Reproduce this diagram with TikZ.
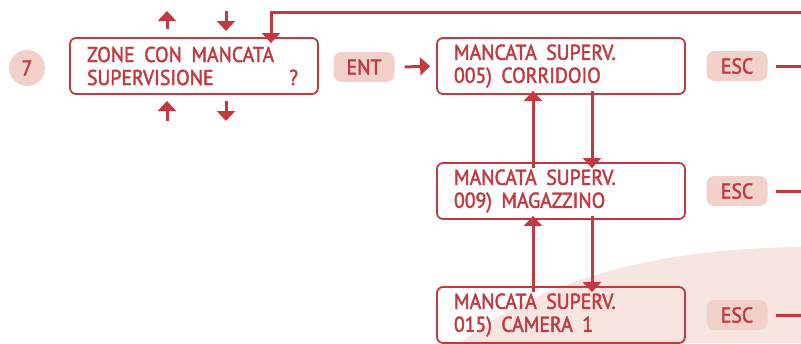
\documentclass[tikz,border=0pt]{standalone}
\usepackage{fontspec}
\newfontfamily\dinfont{PT Sans}[FakeBold=2, FakeStretch=0.92]
\newcommand{\testodisplay}{\dinfont\fontsize{21.5}{23}\selectfont}
\newcommand{\spz}{\hspace{9.5pt}}
\usetikzlibrary{arrows.meta}
\definecolor{rosso}{HTML}{C23A40}
\definecolor{rosa}{HTML}{F1D1CA}
\definecolor{sfondo}{HTML}{F6E5E1}

\begin{document}
\begin{tikzpicture}[x=1pt, y=-1pt,
  every node/.style={text=rosso, font=\testodisplay},
  display/.style={draw=rosso, line width=1.8pt, rounded corners=6pt, minimum width=248pt, minimum height=56pt, text width=214pt, align=left, inner xsep=17pt},
  tasto/.style={fill=rosa, rounded corners=8pt, minimum width=61pt, minimum height=30pt, inner sep=0pt},
  freccia/.style={draw=rosso, line width=3pt, -{Triangle[width=18pt,length=10pt]}},
  linea/.style={draw=rosso, line width=3pt}]
			\useasboundingbox (0,0) rectangle (801,343);
			\fill[sfondo] (460,343) .. controls (560,264) and (700,248) .. (801,247) -- (801,343) -- cycle;

			\node[circle, fill=rosa, minimum size=36pt, inner sep=0pt] (passo) at (27,68){7};
			\node[display] (menu) at (194,66){ZONE\spz CON\spz MANCATA\\SUPERVISIONE\hfill ?\hspace*{3pt}};
			\node[tasto] (ent) at (364,67){ENT};
			\node[display] (z005) at (561,66){MANCATA\spz SUPERV.\\005)\spz CORRIDOIO};
			\node[display] (z009) at (561,191){MANCATA\spz SUPERV.\\009)\spz MAGAZZINO};
			\node[display] (z015) at (561,315){MANCATA\spz SUPERV.\\015)\spz CAMERA\spz 1};
			\node[tasto] (esc1) at (737,66){ESC};
			\node[tasto] (esc2) at (737,191){ESC};
			\node[tasto] (esc3) at (737,315){ESC};

			\coordinate (su1) at (167,11);
			\coordinate (giu1) at (226,11);
			\coordinate (su2) at (167,121);
			\coordinate (giu2) at (226,121);
			\coordinate (ritorno) at (801,12);
			\coordinate (fuori) at (801,0);

			\path[freccia] (su1 |- menu.north) ++(0,-8) -- (su1);
			\path[freccia] (giu1) -- ++(0,20);
			\path[freccia] (ritorno) -| ([xshift=77pt,yshift=-6pt]menu.north);
			\path[freccia] (su2) -- ++(0,-20);
			\path[freccia] (giu2 |- menu.south) ++(0,6) -- (giu2);
			\path[freccia] ([xshift=10pt]ent.east) -- ([xshift=-6pt]z005.west);
			\path[freccia] ([xshift=-28pt,yshift=-6pt]z009.north) -- ([xshift=-28pt,yshift=4pt]z005.south);
			\path[freccia] ([xshift=31pt,yshift=4pt]z005.south) -- ([xshift=31pt,yshift=-6pt]z009.north);
			\path[freccia] ([xshift=-28pt,yshift=-6pt]z015.north) -- ([xshift=-28pt,yshift=4pt]z009.south);
			\path[freccia] ([xshift=31pt,yshift=4pt]z009.south) -- ([xshift=31pt,yshift=-6pt]z015.north);
			\path[linea] ([xshift=8pt]esc1.east) -- (esc1.east -| fuori);
			\path[linea] ([xshift=8pt]esc2.east) -- (esc2.east -| fuori);
			\path[linea] ([xshift=8pt]esc3.east) -- (esc3.east -| fuori);
			\end{tikzpicture}
\end{document}
